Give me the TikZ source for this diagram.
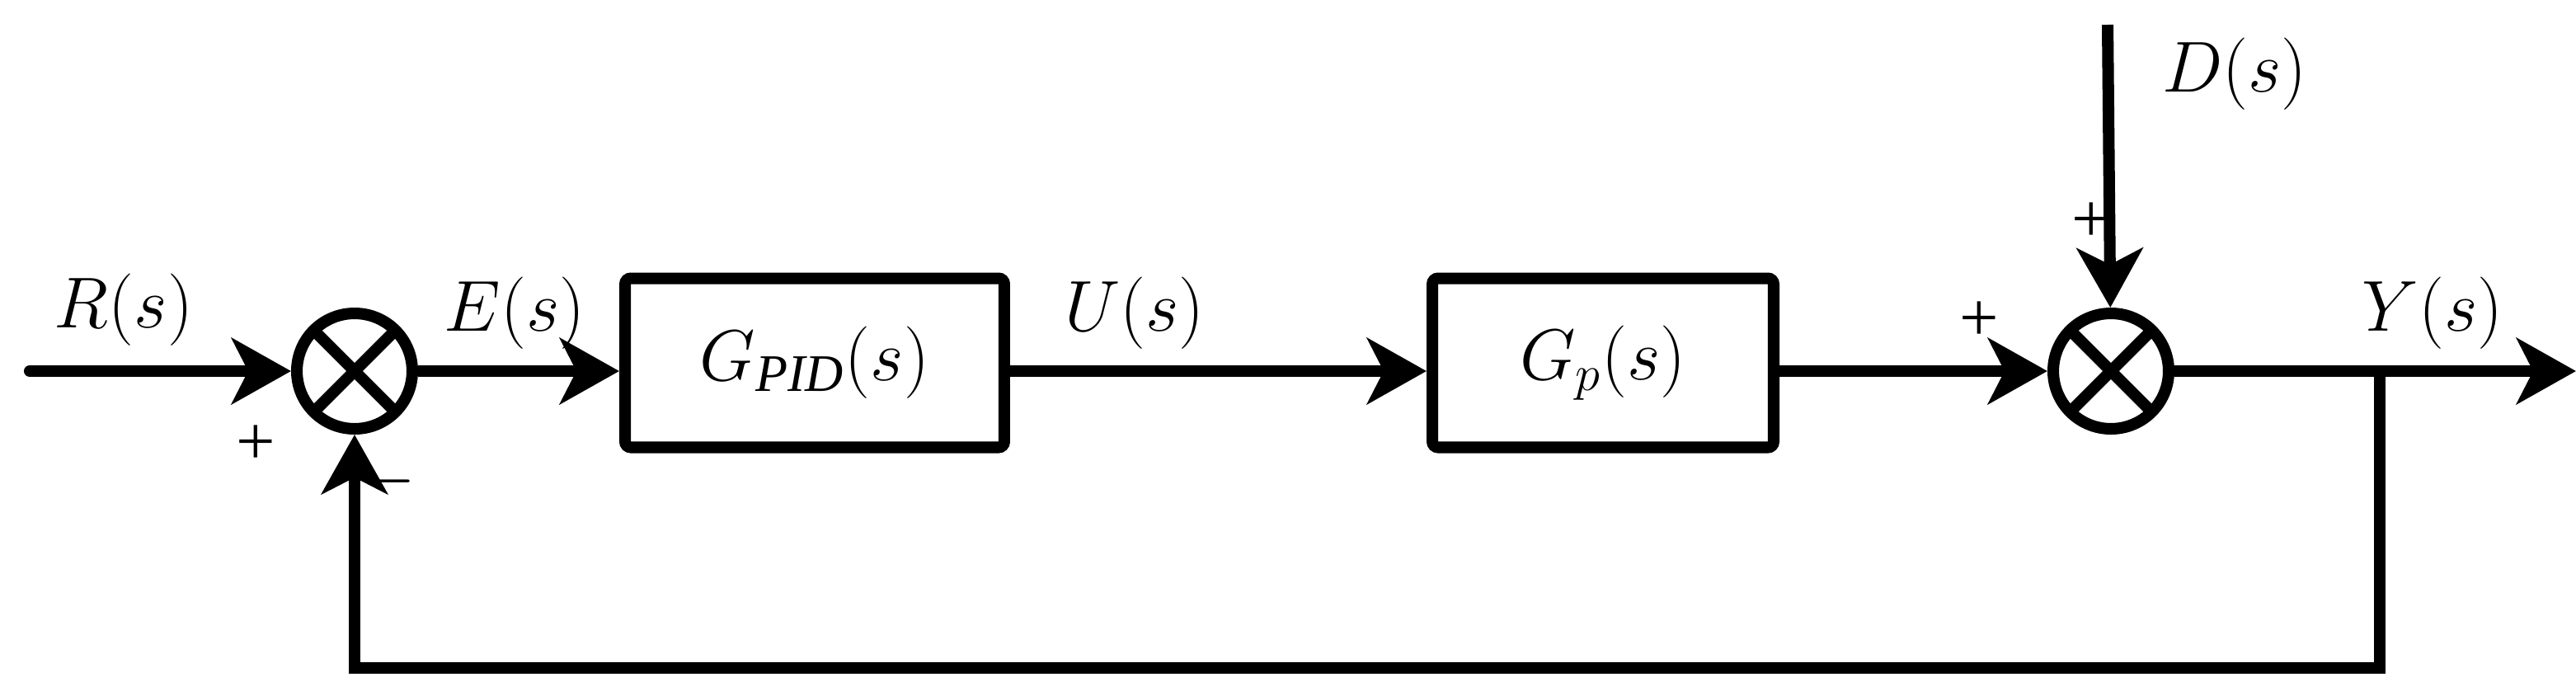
\documentclass[tikz,border=0pt]{standalone}
\usepackage{fontspec}
\setmainfont{Liberation Serif}
\usetikzlibrary{arrows.meta}
\begin{document}
\begin{tikzpicture}[x=0.02cm,y=-0.02cm,
  ln/.style={line width=4pt},
  arr/.style={ln,-{Stealth[length=0.72cm,width=0.8cm,inset=0.2cm]}},
  blk/.style={draw,line width=4pt,rounded corners=2pt,minimum width=4.6cm,minimum height=2.05cm,inner sep=0pt},
  sum/.style={draw,circle,line width=4pt,minimum size=1.4cm,inner sep=0pt,
    path picture={\draw[line width=4pt] (path picture bounding box.north west)--(path picture bounding box.south east)
      (path picture bounding box.north east)--(path picture bounding box.south west);}},
  lab/.style={font=\fontsize{26}{30}\selectfont\itshape},
  sg/.style={font=\fontsize{24}{28}\selectfont}]
\useasboundingbox (0,0) rectangle (1562,421.5);
\node[sum] (s1) at (215,225) {};
\node[sum] (s2) at (1280,225) {};
\node[blk] (b1) at (494,220) {};
\node[lab] at (b1) {$G_{\mathit{PID}}(s)$};
\node[blk,minimum width=4.14cm] (b2) at (972,220) {};
\node[lab] at (b2) {$G_{p}(s)$};
\coordinate (in) at (18,225);
\coordinate (out) at (1562,225);
\coordinate (br) at (1443,225);
\coordinate (fb1) at (1443,405);
\coordinate (fb2) at (215,405);
\coordinate (dt) at (1278,15);
\draw[arr,line cap=round] (in) -- (s1);
\draw[arr] (s1) -- (s1 -| b1.west);
\draw[arr] (b1.east |- s1) -- (b2.west |- s1);
\draw[arr] (b2.east |- s2) -- (s2);
\draw[arr] (s2) -- (out);
\draw[arr] (br) -- (fb1) -- (fb2) -- (s1);
\draw[arr] (dt) -- (s2);
\node[lab,font=\fontsize{26}{30}\selectfont] at (75,188) {$R(s)$};
\node[lab,font=\fontsize{26}{30}\selectfont] at (312,190) {$E(s)$};
\node[lab,font=\fontsize{26}{30}\selectfont] at (688,190) {$U(s)$};
\node[lab,font=\fontsize{26}{30}\selectfont] at (1475,190) {$Y(s)$};
\node[lab,font=\fontsize{26}{30}\selectfont] at (1355,45) {$D(s)$};
\node[sg] at (155,270) {+};
\node[sg] at (235,292) {$-$};
\node[sg] at (1200,195) {+};
\node[sg] at (1268,135) {+};
\end{tikzpicture}
\end{document}
